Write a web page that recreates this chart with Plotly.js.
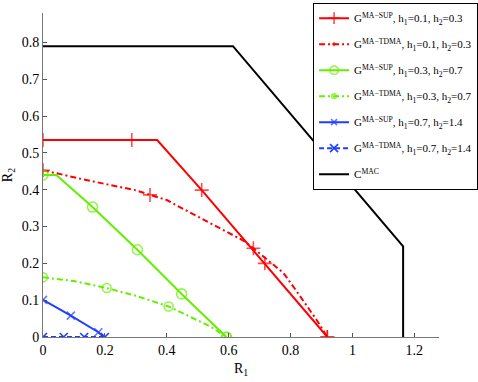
<!DOCTYPE html>
<html>
<head>
<meta charset="utf-8">
<script src="https://cdn.plot.ly/plotly-3.0.1.min.js"></script>
<style>
  body { margin: 0; background: #fff; }
  #chart { width: 478px; height: 382px; }
</style>
</head>
<body>
<div id="chart"></div>
<script>
// Rate regions
const supLowX = [0, 0.287, 0.369, 0.513, 0.717, 0.919];
const supLowY = [0.535, 0.535, 0.535, 0.399, 0.2, 0];
const supLowMarks = [1, 1, 0, 1, 1, 1];

const tdmaLowX = [0, 0.136, 0.297, 0.346, 0.4, 0.453, 0.561, 0.647, 0.68, 0.777, 0.82, 0.884, 0.919];
const tdmaLowY = [0.453, 0.427, 0.399, 0.386, 0.372, 0.348, 0.3, 0.262, 0.241, 0.174, 0.124, 0.047, 0];
const tdmaLowMarks = [1, 0, 0, 1, 0, 0, 0, 0, 1, 0, 0, 0, 1];

const supMidX = [0, 0.043, 0.16, 0.305, 0.448, 0.593];
const supMidY = [0.44, 0.44, 0.353, 0.237, 0.117, 0];
const supMidMarks = [1, 0, 1, 1, 1, 1];

const tdmaMidX = [0, 0.1, 0.206, 0.3, 0.406, 0.475, 0.54, 0.593];
const tdmaMidY = [0.162, 0.152, 0.133, 0.112, 0.083, 0.056, 0.029, 0];
const tdmaMidMarks = [1, 0, 1, 0, 1, 0, 0, 1];

const supHighX = [0, 0.09, 0.179, 0.197];
const supHighY = [0.101, 0.058, 0.013, 0];
const supHighMarks = [1, 1, 1, 0];

const tdmaHighX = [0, 0.067, 0.133, 0.2];
const tdmaHighY = [0, 0, 0, 0];

const macX = [0, 0.614, 1.164, 1.164];
const macY = [0.79, 0.79, 0.246, 0];

const xTicks = [0, 0.2, 0.4, 0.6, 0.8, 1, 1.2];
const yTicks = [0, 0.1, 0.2, 0.3, 0.4, 0.5, 0.6, 0.7, 0.8];

const RED = '#ff0000', GREEN = '#66ee00', BLUE = '#1f3fff';
const SERIF = 'Liberation Serif, Times New Roman, serif';

function sizes(marks, s) { return marks.map(m => m ? s : 0); }

function series(x, y, name, color, dash, symbol, msize, marks, group) {
    return {
        x: x, y: y, name: name, type: 'scatter', mode: 'lines+markers',
        legendgroup: group,
        line: { color: color, width: 2, dash: dash },
        marker: {
            symbol: symbol, color: color,
            size: marks ? sizes(marks, msize) : msize,
            line: { color: color, width: 1.6 }
        }
    };
}

const data = [
    series(supLowX, supLowY, 'G<sup>MA\u2212SUP</sup>, h<sub>1</sub>=0.1, h<sub>2</sub>=0.3', RED, 'solid', 'cross-thin-open', 10, supLowMarks, 'a'),
    series(tdmaLowX, tdmaLowY, 'G<sup>MA\u2212TDMA</sup>, h<sub>1</sub>=0.1, h<sub>2</sub>=0.3', RED, '6px,3px,2px,3px', 'cross-thin-open', 10, tdmaLowMarks, 'b'),
    series(supMidX, supMidY, 'G<sup>MA\u2212SUP</sup>, h<sub>1</sub>=0.3, h<sub>2</sub>=0.7', GREEN, 'solid', 'circle-open', 10, supMidMarks, 'c'),
    series(tdmaMidX, tdmaMidY, 'G<sup>MA\u2212TDMA</sup>, h<sub>1</sub>=0.3, h<sub>2</sub>=0.7', GREEN, '6px,3px,2px,3px', 'circle-open', 9, tdmaMidMarks, 'd'),
    series(supHighX, supHighY, 'G<sup>MA\u2212SUP</sup>, h<sub>1</sub>=0.7, h<sub>2</sub>=1.4', BLUE, 'solid', 'x-thin-open', 8, supHighMarks, 'e'),
    series(tdmaHighX, tdmaHighY, 'G<sup>MA\u2212TDMA</sup>, h<sub>1</sub>=0.7, h<sub>2</sub>=1.4', BLUE, '5px,3px', 'x-thin-open', 8, null, 'f'),
    {
        x: macX, y: macY, name: 'C<sup>MAC</sup>', type: 'scatter', mode: 'lines',
        legendgroup: 'g',
        line: { color: '#000000', width: 2 }
    }
];

const axisFont = { family: SERIF, size: 14, color: '#000' };

const layout = {
    width: 478,
    height: 382,
    margin: { l: 43, r: 39, t: 13, b: 45, autoexpand: false },
    paper_bgcolor: '#fff',
    plot_bgcolor: '#fff',
    font: axisFont,
    showlegend: true,
    legend: {
        x: 0.682, y: 1.032, xanchor: 'left', yanchor: 'top',
        bgcolor: '#fff', bordercolor: '#000', borderwidth: 1,
        font: { family: SERIF, size: 11, color: '#000' },
        tracegroupgap: 7,
        itemwidth: 30,
        maxheight: 1
    },
    xaxis: {
        range: [0, 1.28],
        tickvals: xTicks,
        ticktext: xTicks.map(String),
        ticks: 'inside', ticklen: 4, tickcolor: '#555',
        showgrid: false, zeroline: false,
        showline: true, linecolor: '#777', linewidth: 1,
        tickfont: axisFont,
        title: { text: 'R<sub>1</sub>', font: axisFont, standoff: 6 }
    },
    yaxis: {
        range: [0, 0.88],
        tickvals: yTicks,
        ticktext: yTicks.map(String),
        ticks: 'inside', ticklen: 4, tickcolor: '#555',
        showgrid: false, zeroline: false,
        showline: true, linecolor: '#777', linewidth: 1,
        tickfont: axisFont,
        title: { text: 'R<sub>2</sub>', font: axisFont, standoff: 8 }
    }
};

Plotly.newPlot('chart', data, layout, { displayModeBar: false, staticPlot: true });
</script>
</body>
</html>
